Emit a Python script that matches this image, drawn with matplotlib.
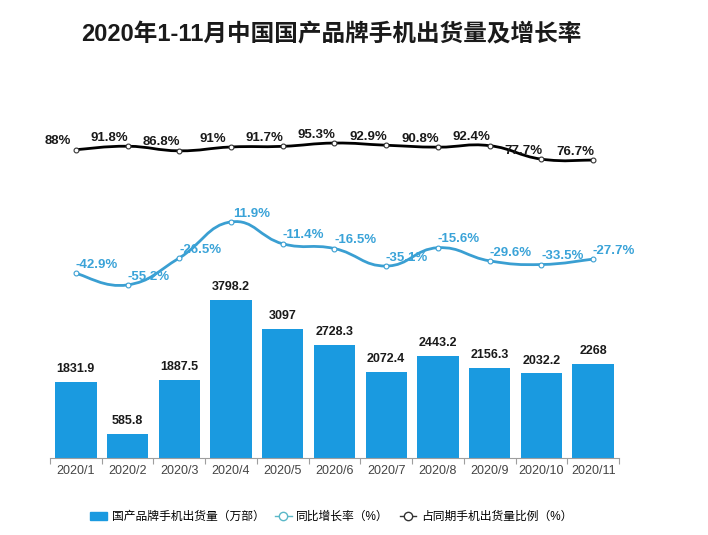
import matplotlib
matplotlib.use("Agg")
import matplotlib.pyplot as plt
import numpy as np
from matplotlib.path import Path
from matplotlib.patches import PathPatch, Patch
from matplotlib.lines import Line2D

plt.rcParams["font.family"] = ["Liberation Sans", "Noto Sans CJK SC", "DejaVu Sans"]

BLUE = "#1a9ae0"
LINE_BLUE = "#3a9fd2"
LABEL_BLUE = "#3aa3d8"
INK = "#1a1a1a"
AXIS = "#9e9e9e"

months = ["2020/1", "2020/2", "2020/3", "2020/4", "2020/5", "2020/6",
          "2020/7", "2020/8", "2020/9", "2020/10", "2020/11"]
shipments = [1831.9, 585.8, 1887.5, 3798.2, 3097, 2728.3,
             2072.4, 2443.2, 2156.3, 2032.2, 2268]
growth = [-42.9, -55.2, -26.5, 11.9, -11.4, -16.5,
          -35.1, -15.6, -29.6, -33.5, -27.7]
share = [88, 91.8, 86.8, 91, 91.7, 95.3, 92.9, 90.8, 92.4, 77.7, 76.7]


def smooth_path(xs, ys, t=0.45):
    """Catmull-Rom style cubic bezier path through the points."""
    xs = np.asarray(xs, float)
    ys = np.asarray(ys, float)
    n = len(xs)
    verts = [(xs[0], ys[0])]
    codes = [Path.MOVETO]
    for i in range(n - 1):
        p0 = i - 1 if i > 0 else i
        p3 = i + 2 if i + 2 < n else i + 1
        d1 = ((xs[i + 1] - xs[p0]) * t / 2, (ys[i + 1] - ys[p0]) * t / 2)
        d2 = ((xs[p3] - xs[i]) * t / 2, (ys[p3] - ys[i]) * t / 2)
        verts += [(xs[i] + d1[0], ys[i] + d1[1]),
                  (xs[i + 1] - d2[0], ys[i + 1] - d2[1]),
                  (xs[i + 1], ys[i + 1])]
        codes += [Path.CURVE4] * 3
    return Path(verts, codes)


fig = plt.figure(figsize=(7.08, 5.35), dpi=100)
ax = fig.add_axes([0.0706, 0.1439, 0.8037, 0.641])
ax_g = ax.twinx()
ax_s = ax.twinx()

x = np.arange(len(months))

# bars
bars = ax.bar(x, shipments, width=0.8, color=BLUE, zorder=2)
for b, v in zip(bars, shipments):
    ax.annotate(f"{v:g}", xy=(b.get_x() + b.get_width() / 2, v),
                xytext=(0, 5), textcoords="offset points",
                ha="center", va="bottom", fontsize=9, fontweight="bold", color=INK)
ax.set_xlim(-0.5, len(months) - 0.5)
ax.set_ylim(0, 8245)

# growth line
ax_g.set_ylim(-239.6, 125.7)
ax_g.add_patch(PathPatch(smooth_path(x, growth), fill=False,
                         edgecolor=LINE_BLUE, lw=2.0, zorder=3))
ax_g.plot(x, growth, ls="none", marker="o", ms=3.5, mfc="white",
          mec=LINE_BLUE, mew=0.8, zorder=4)
for xi, v in zip(x, growth):
    ax_g.annotate(f"{v:g}%", xy=(xi, v), xytext=(15, 6),
                  textcoords="offset points", ha="center", va="center",
                  fontsize=9.5, fontweight="bold", color=LABEL_BLUE)

# share line
ax_s.set_ylim(-249.3, 125.9)
ax_s.add_patch(PathPatch(smooth_path(x, share), fill=False,
                         edgecolor="black", lw=2.0, zorder=3))
ax_s.plot(x, share, ls="none", marker="o", ms=3.5, mfc="white",
          mec="#333333", mew=0.8, zorder=4)
for xi, v in zip(x, share):
    ax_s.annotate(f"{v:g}%", xy=(xi, v), xytext=(-13, 6),
                  textcoords="offset points", ha="center", va="center",
                  fontsize=9.5, fontweight="bold", color=INK)

for a in (ax, ax_g, ax_s):
    for s in ("top", "right", "left"):
        a.spines[s].set_visible(False)
    a.set_yticks([])
ax_g.spines["bottom"].set_visible(False)
ax_s.spines["bottom"].set_visible(False)
ax.spines["bottom"].set_color(AXIS)
ax.spines["bottom"].set_linewidth(0.8)

ax.set_xticks(x)
ax.set_xticklabels(months, fontsize=9, color="#444444")
ax.tick_params(axis="x", length=0, pad=5)
ax.set_xticks(np.arange(-0.5, len(months), 1), minor=True)
ax.tick_params(axis="x", which="minor", length=4, color=AXIS, width=0.8)

fig.text(0.468, 0.935, "2020年1-11月中国国产品牌手机出货量及增长率",
         ha="center", va="center", fontsize=17, fontweight="bold", color=INK)

handles = [
    Patch(facecolor=BLUE, edgecolor=BLUE),
    Line2D([], [], color="#5bb8c8", lw=1, marker="o", ms=6, mfc="white", mec="#5bb8c8"),
    Line2D([], [], color="#333333", lw=1, marker="o", ms=6, mfc="white", mec="#333333"),
]
labels = ["国产品牌手机出货量（万部）", "同比增长率（%）", "占同期手机出货量比例（%）"]
fig.legend(handles, labels, loc="center", bbox_to_anchor=(0.468, 0.034),
           ncol=3, frameon=False, fontsize=8.5, handlelength=1.4,
           columnspacing=0.9, handletextpad=0.4)

fig.savefig("out.png", dpi=100)
